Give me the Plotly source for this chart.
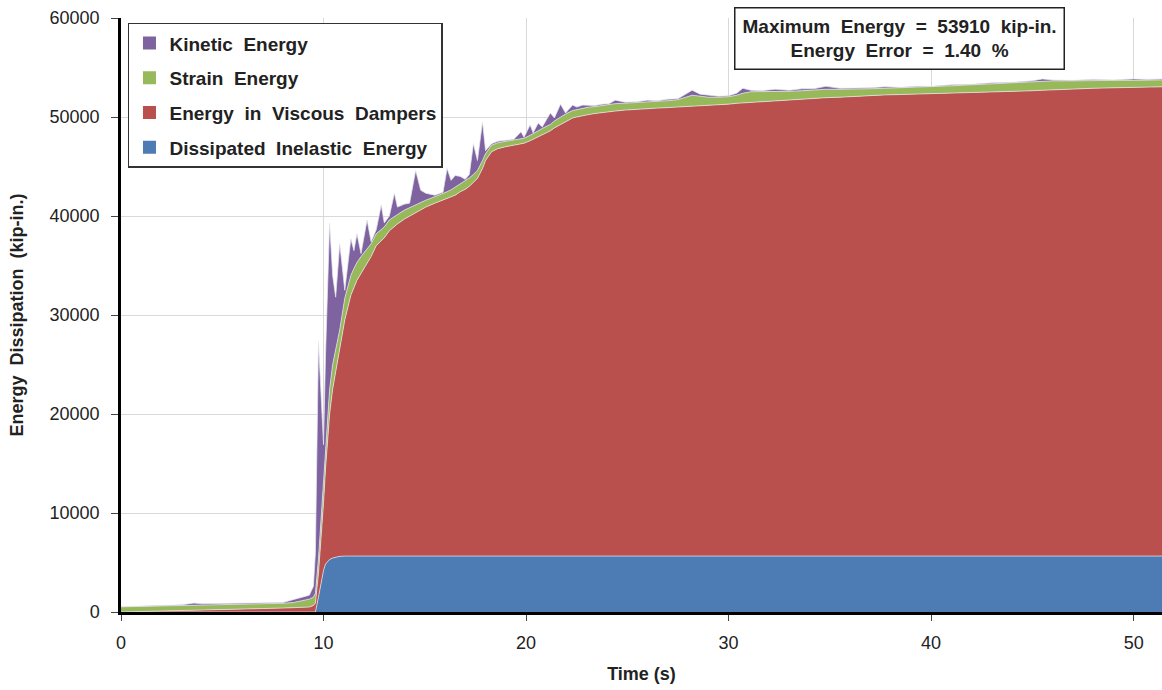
import plotly.graph_objects as go

# ---------------- data ----------------
time_s = [
    0, 1, 2, 3, 3.3, 3.6, 4, 5, 6, 7, 8, 8.5, 9, 9.3, 9.5,
    9.6, 9.75, 9.9, 10.0, 10.1, 10.3, 10.45, 10.6, 10.8, 11.05,
    11.35, 11.5, 11.65, 11.85, 12.15, 12.35, 12.6, 12.85, 13.0, 13.25,
    13.5, 13.65, 14.0, 14.25, 14.55, 14.8, 15.05, 15.5, 15.9, 16.1,
    16.3, 16.5, 16.75, 17.0, 17.2, 17.4, 17.6, 17.85, 18.0, 18.3,
    18.6, 19.0, 19.4, 19.75, 19.9, 20.2, 20.35, 20.6, 20.8, 21.2,
    21.4, 21.7, 21.95, 22.3, 22.5, 22.8, 23.1, 23.4, 23.75, 24.1,
    24.4, 24.9,
    25.5, 26.0, 26.5, 27.0, 27.5, 28.2, 28.6, 29.0, 29.5, 30.0,
    30.4, 30.7, 31.1, 31.6, 32.3, 33.0, 33.6, 34.2, 34.8, 35.5,
    36.3, 37.0, 37.7, 38.5, 39.3, 40.0, 41.0, 42.0, 43.0, 44.0,
    45.0, 45.5, 46.0, 47.0, 48.0, 49.0, 50.0, 50.7, 51.4,
]

inelastic_energy = [
    0, 0, 0, 0, 0, 0, 0, 0, 0, 0, 0, 0, 0, 0, 0,
    0, 1500, 3300, 4200, 4850, 5300, 5450, 5550, 5620, 5650,
    5650, 5650, 5650, 5650, 5650, 5650, 5650, 5650, 5650, 5650,
    5650, 5650, 5650, 5650, 5650, 5650, 5650, 5650, 5650, 5650,
    5650, 5650, 5650, 5650, 5650, 5650, 5650, 5650, 5650, 5650,
    5650, 5650, 5650, 5650, 5650, 5650, 5650, 5650, 5650, 5650,
    5650, 5650, 5650, 5650, 5650, 5650, 5650, 5650, 5650, 5650,
    5650, 5650,
    5650, 5650, 5650, 5650, 5650, 5650, 5650, 5650, 5650, 5650,
    5650, 5650, 5650, 5650, 5650, 5650, 5650, 5650, 5650, 5650,
    5650, 5650, 5650, 5650, 5650, 5650, 5650, 5650, 5650, 5650,
    5650, 5650, 5650, 5650, 5650, 5650, 5650, 5650, 5650,
]

viscous_energy = [
    0, 40, 90, 140, 150, 170, 200, 250, 300, 350, 400, 430, 460, 500, 650,
    900, 2400, 4700, 6800, 9650, 14700, 17050, 18750, 20680, 23850,
    26350, 27150, 27850, 28550, 29550, 30250, 31350, 31850, 32150, 32850,
    33350, 33550, 34050, 34350, 34700, 35000, 35250, 35650, 35950, 36150,
    36300, 36450, 36800, 37050, 37350, 37750, 38150, 39150, 39950, 40850,
    41150, 41350, 41500, 41600, 41700, 41950, 42100, 42350, 42600, 42950,
    43250, 43600, 43900, 44250, 44350, 44500, 44600, 44700, 44800, 44850,
    44950, 45050,
    45150, 45200, 45250, 45300, 45350, 45450, 45500, 45550, 45600, 45650,
    45730, 45770, 45800, 45900, 46000, 46100, 46150, 46200, 46300, 46350,
    46450, 46550, 46580, 46620, 46660, 46700, 46750, 46800, 46900, 46950,
    47000, 47050, 47100, 47200, 47250, 47300, 47350, 47380, 47400,
]

strain_energy = [
    520, 520, 520, 520, 530, 530, 520, 510, 500, 490, 480, 520, 690, 800, 850,
    1000, 1500, 2300, 2500, 2500, 2500, 2500, 2300, 2200, 2200,
    2000, 1900, 1800, 1700, 1500, 1300, 1200, 1200, 1100, 1100,
    1000, 950, 900, 850, 800, 750, 700, 650, 650, 650,
    700, 800, 850, 900, 850, 800, 800, 800, 700, 650,
    600, 550, 500, 500, 500, 550, 550, 600, 600, 650,
    700, 750, 750, 750, 750, 750, 750, 700, 700, 750,
    750, 700,
    650, 650, 650, 700, 750, 1100, 950, 800, 750, 750,
    820, 980, 1100, 1000, 950, 850, 850, 900, 850, 800,
    700, 650, 670, 680, 690, 700, 750, 800, 800, 850,
    900, 950, 900, 800, 800, 750, 700, 690, 700,
]

kinetic_energy = [
    20, 20, 30, 60, 140, 200, 110, 100, 80, 90, 80, 300, 350, 400, 1100,
    4100, 21900, 9700, 3400, 9000, 16800, 9000, 5200, 8700, 800,
    3700, 1800, 2900, 300, 2900, 200, 400, 2400, 400, 400,
    2300, 750, 600, 450, 3450, 1200, 700, 150, 150, 2350,
    950, 1200, 700, 100, 350, 3100, 1000, 3900, 300, 150,
    150, 100, 100, 750, 100, 1050, 100, 800, 150, 1150,
    300, 1300, 100, 550, 250, 300, 200, 100, 150, 100,
    350, 100,
    100, 200, 100, 150, 100, 500, 200, 200, 100, 100,
    200, 500, 150, 100, 200, 100, 200, 100, 300, 100,
    100, 100, 150, 50, 100, 50, 100, 50, 100, 50,
    100, 200, 100, 50, 100, 50, 150, 80, 100,
]

series_names = [
    "Dissipated  Inelastic  Energy",
    "Energy  in  Viscous  Dampers",
    "Strain  Energy",
    "Kinetic  Energy",
]
series_values = [inelastic_energy, viscous_energy, strain_energy, kinetic_energy]
series_colors = ["#4D7BB3", "#B9504D", "#98B95A", "#7E63A0"]

x_ticks = [0, 10, 20, 30, 40, 50]
y_ticks = [0, 10000, 20000, 30000, 40000, 50000, 60000]

annotation_text = "<b>Maximum  Energy  =  53910  kip-in.</b><br><b>Energy  Error  =  1.40  %</b>"

# ---------------- figure ----------------
FONT = "Liberation Sans, Arial, sans-serif"
fig = go.Figure()
for name, vals, col in zip(series_names, series_values, series_colors):
    fig.add_trace(go.Scatter(
        x=time_s, y=vals, name=name,
        mode="lines", stackgroup="one",
        line=dict(width=0.8, color="rgba(232,232,240,0.9)"),
        fillcolor=col, showlegend=False,
        hoverinfo="skip",
    ))
# legend entries with square swatches (top layer listed first, as in the reference)
for name, col in zip(series_names[::-1], series_colors[::-1]):
    fig.add_trace(go.Scatter(
        x=[None], y=[None], mode="markers", name="<b>" + name + "</b>",
        marker=dict(symbol="square", size=13, color=col),
        legendgroup=name, showlegend=True,
    ))

fig.update_layout(
    width=1162, height=690,
    margin=dict(l=121, r=0, t=18, b=78),
    plot_bgcolor="white", paper_bgcolor="white",
    font=dict(family=FONT, size=18, color="#222222"),
    showlegend=True,
    legend=dict(
        x=0.0067, y=0.992, xanchor="left", yanchor="top",
        traceorder="grouped", tracegroupgap=7, itemwidth=30,
        bgcolor="white", bordercolor="#333333", borderwidth=1.5,
        font=dict(family=FONT, size=19, color="#222222"),
    ),
    annotations=[dict(
        text=annotation_text, xref="paper", yref="paper",
        x=0.748, y=0.966, xanchor="center", yanchor="middle",
        showarrow=False, align="center",
        bordercolor="#222222", borderwidth=1.5, borderpad=7, bgcolor="white",
        font=dict(family=FONT, size=19, color="#222222"),
    )],
)

fig.update_xaxes(
    range=[0, 51.4], tickvals=x_ticks,
    showgrid=True, gridcolor="#D9D9D9", gridwidth=1,
    showline=True, linecolor="black", linewidth=2.5,
    ticks="outside", ticklen=6, tickcolor="#444444", tickwidth=1,
    ticklabelstandoff=7, zeroline=False,
    title=dict(text="<b>Time (s)</b>", standoff=16,
               font=dict(family=FONT, size=18, color="#222222")),
)
fig.update_yaxes(
    range=[0, 60000], tickvals=y_ticks, tickformat="d",
    showgrid=True, gridcolor="#D9D9D9", gridwidth=1,
    showline=True, linecolor="black", linewidth=2.5,
    ticks="outside", ticklen=7, tickcolor="#444444", tickwidth=1,
    ticklabelstandoff=8, zeroline=False,
    title=dict(text="<b>Energy  Dissipation  (kip-in.)</b>", standoff=22,
               font=dict(family=FONT, size=18, color="#222222")),
)

fig.write_html("out.html")
